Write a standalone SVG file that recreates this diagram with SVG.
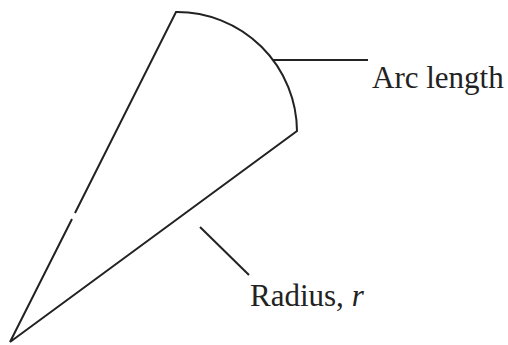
<svg xmlns="http://www.w3.org/2000/svg" width="508" height="345" viewBox="0 0 508 345">
<style>
.ln{fill:none;stroke:#222;stroke-width:2;stroke-linejoin:miter}
.lb{font-family:"Liberation Serif","Times New Roman",serif;font-size:31px;fill:#222}
</style>
<rect width="508" height="345" fill="#fff"/>
<g id="sector">
<path class="ln" d="M 72 219 L 10 342 L 297 131 A 120 120 0 0 0 177 12 L 176 12 L 75 213"/>
</g>
<g id="connectors">
<line class="ln" x1="273" y1="60" x2="368" y2="60"/>
<line class="ln" x1="200" y1="227" x2="249" y2="275"/>
</g>
<g id="arc-label"><text class="lb" x="372" y="88">Arc length</text></g>
<g id="radius-label"><text class="lb" x="250" y="306">Radius, <tspan font-style="italic">r</tspan></text></g>
</svg>
